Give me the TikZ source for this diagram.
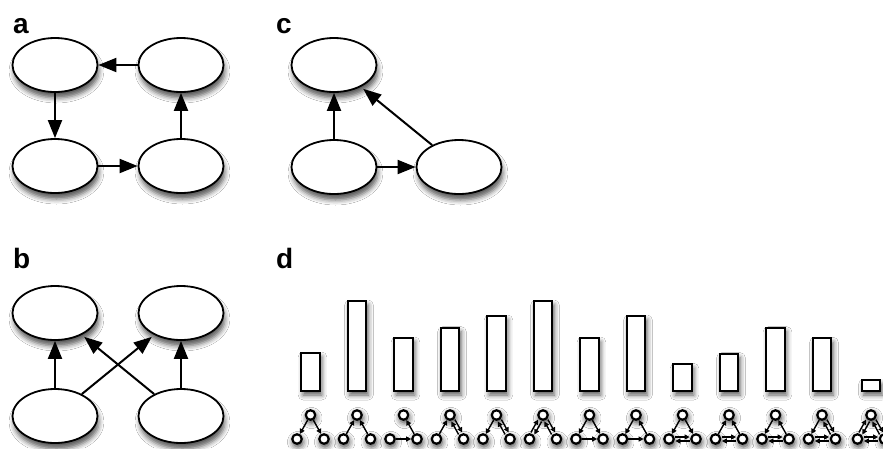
\documentclass[tikz,border=0pt]{standalone}
\usepackage{fontspec}
\setmainfont{Liberation Sans}
\usetikzlibrary{shapes.geometric,arrows.meta,calc,shadows.blur}

% two opposite arrows side by side between two small nodes
\newcommand\bothways[2]{%
  \draw[marr] ($(#1)!6.4pt!(#2)!2pt!90:(#2)$) -- ($(#2)!6.4pt!(#1)!2pt!-90:(#1)$);
  \draw[marr] ($(#2)!6.4pt!(#1)!2pt!90:(#1)$) -- ($(#1)!6.4pt!(#2)!2pt!-90:(#2)$);}

% three small nodes of a triad, centred at x = #2
\newcommand\triad[2]{%
  \node[dot] (t#1) at (#2,415) {};
  \node[dot] (l#1) at ({#2-13.5},439) {};
  \node[dot] (r#1) at ({#2+13.5},439) {};}

\tikzset{
  state/.style={ellipse, draw, line width=1.8pt, fill=white,
    minimum width=85pt, minimum height=54pt, inner sep=0pt,
    blur shadow={shadow xshift=1.5pt, shadow yshift=-6pt,
      shadow blur radius=5pt, shadow opacity=65}},
  link/.style={line width=2pt, -{Triangle[length=18pt,width=14pt]}},
  far/.style={shorten >=3pt},
  panel/.style={anchor=base west, inner sep=0pt,
    font=\fontsize{28}{28}\selectfont\bfseries},
  bar/.style={draw, line width=2pt, fill=white,
    blur shadow={shadow xshift=2pt, shadow yshift=-4pt,
      shadow blur radius=5pt, shadow opacity=65}},
  dot/.style={circle, draw, line width=2.2pt, fill=white,
    minimum size=9.5pt, inner sep=0pt,
    blur shadow={shadow xshift=1pt, shadow yshift=-3pt,
      shadow blur radius=6pt, shadow opacity=80}},
  marr/.style={line width=1.4pt, -{Triangle[length=5pt,width=5pt]}},
}

\begin{document}
\begin{tikzpicture}[x=1pt, y=-1pt]
\fill[white] (0,0) rectangle (883,448);
\useasboundingbox (0,0) rectangle (883,448);

% panel labels
\node[panel] (la) at (13,33) {a};
\node[panel] (lc) at (276,33) {c};
\node[panel] (lb) at (13,268) {b};
\node[panel] (ld) at (276,268) {d};

% a: four-node cycle
\node[state] (a1) at (55,65) {};
\node[state] (a2) at (181,65) {};
\node[state] (a3) at (55,166) {};
\node[state] (a4) at (181,166) {};
\draw[link] (a2) -- (a1);
\draw[link] (a1) -- (a3);
\draw[link] (a3) -- (a4);
\draw[link] (a4) -- (a2);

% c: feed-forward triangle
\node[state] (c1) at (334,65) {};
\node[state] (c2) at (334,167) {};
\node[state] (c3) at (459,167) {};
\draw[link] (c2) -- (c1);
\draw[link] (c2) -- (c3);
\draw[link, far] (c3) -- (c1);

% b: bi-fan
\node[state] (b1) at (55,313) {};
\node[state] (b2) at (181,313) {};
\node[state] (b3) at (55,416) {};
\node[state] (b4) at (181,416) {};
\draw[link] (b3) -- (b1);
\draw[link] (b4) -- (b2);
\draw[link, far] (b3) -- (b2);
\draw[link, far] (b4) -- (b1);

% d: bars
\foreach \x/\t in {310.5/353, 357/301, 403.5/338, 450/327.7, 496.5/316,
                   543/301, 589.5/338, 636/316, 682.5/364.3, 729/353.7,
                   775.5/327.7, 822/338.3, 871/380}
  \draw[bar] ({\x-9.3},\t) rectangle ({\x+9.3},391);

% d: the thirteen triads
\triad{1}{310.5}
\triad{2}{357}
\triad{3}{403.5}
\triad{4}{450}
\triad{5}{496.5}
\triad{6}{543}
\triad{7}{589.5}
\triad{8}{636}
\triad{9}{682.5}
\triad{10}{729}
\triad{11}{775.5}
\triad{12}{822}
\triad{13}{871}

\draw[marr] (t1) -- (l1); \draw[marr] (t1) -- (r1);
\draw[marr] (l2) -- (t2); \draw[marr] (r2) -- (t2);
\draw[marr] (l3) -- (r3); \draw[marr] (r3) -- (t3);
\draw[marr] (l4) -- (t4); \bothways{t4}{r4}
\draw[marr] (t5) -- (l5); \bothways{t5}{r5}
\bothways{t6}{l6} \bothways{t6}{r6}
\draw[marr] (t7) -- (l7); \draw[marr] (t7) -- (r7); \draw[marr] (l7) -- (r7);
\draw[marr] (t8) -- (l8); \draw[marr] (r8) -- (t8); \draw[marr] (l8) -- (r8);
\draw[marr] (t9) -- (l9); \draw[marr] (t9) -- (r9); \bothways{l9}{r9}
\draw[marr] (l10) -- (t10); \draw[marr] (r10) -- (t10); \bothways{l10}{r10}
\draw[marr] (t11) -- (l11); \draw[marr] (r11) -- (t11); \bothways{l11}{r11}
\draw[marr] (t12) -- (l12); \bothways{t12}{r12} \bothways{l12}{r12}
\bothways{t13}{l13} \bothways{t13}{r13} \bothways{l13}{r13}
\end{tikzpicture}
\end{document}
